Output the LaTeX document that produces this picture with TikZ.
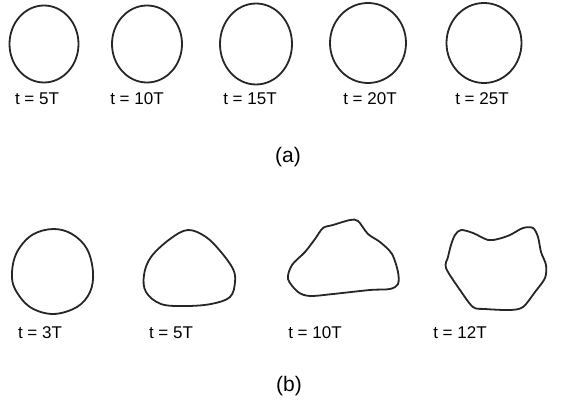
\documentclass[tikz,border=0pt]{standalone}
\usepackage{fontspec}
\setmainfont{Liberation Sans}
\tikzset{outline/.style={draw=black!85,line width=1.8pt},lbl/.style={font=\fontsize{17}{19}\selectfont,inner sep=0pt},partlbl/.style={font=\fontsize{21}{23}\selectfont,inner sep=0pt}}

\begin{document}
\begin{tikzpicture}[x=1pt,y=-1pt]
\useasboundingbox (0,0) rectangle (568,404);
% (a) circles
\draw[outline] (44,44) ellipse [x radius=34.5,y radius=38.5];
\draw[outline] (147,44) ellipse [x radius=35,y radius=38.5];
\draw[outline] (256,44) ellipse [x radius=36,y radius=40.5];
\draw[outline] (368,43) ellipse [x radius=38,y radius=40];
\draw[outline] (484,43) ellipse [x radius=37.5,y radius=40];
\node[lbl] (a1) at (37,99) {t = 5T};
\node[lbl] (a2) at (137,99) {t = 10T};
\node[lbl] (a3) at (250,99) {t = 15T};
\node[lbl] (a4) at (370,99) {t = 20T};
\node[lbl] (a5) at (482,99) {t = 25T};
\node[partlbl] (capa) at (288,157) {(a)};
% (b) shapes
\draw[outline] plot[smooth cycle,tension=0.6] coordinates {(53,229) (72,234) (87,249) (93,272) (90,292) (77,307) (53,314) (30,307) (15,289) (12,272) (17,252) (32,235)};
\draw[outline] plot[smooth cycle,tension=0.6] coordinates {(188,230) (206,237) (221,252) (233,269) (235,282) (230,297) (211,304) (185,306) (161,304) (146,292) (144,275) (151,257) (170,239)};
\draw[outline] plot[smooth cycle,tension=0.5] coordinates {(288,279) (292,265) (305,252) (315,239) (323,228) (333,225) (350,220) (358,221) (368,234) (380,242) (392,254) (398,272) (398,284) (390,289) (370,290) (333,294) (310,296) (298,292)};
\draw[outline] plot[smooth cycle,tension=0.5] coordinates {(455,235) (461,230) (473,233) (488,240) (498,239) (510,235) (523,228) (533,228) (538,237) (541,252) (546,265) (545,278) (535,292) (523,307) (510,310) (485,309) (473,307) (460,290) (446,268) (448,257) (451,245)};
\node[lbl] (b1) at (40,333) {t = 3T};
\node[lbl] (b2) at (171,333) {t = 5T};
\node[lbl] (b3) at (315,333) {t = 10T};
\node[lbl] (b4) at (460,333) {t = 12T};
\node[partlbl] (capb) at (289,386) {(b)};
\end{tikzpicture}
\end{document}
